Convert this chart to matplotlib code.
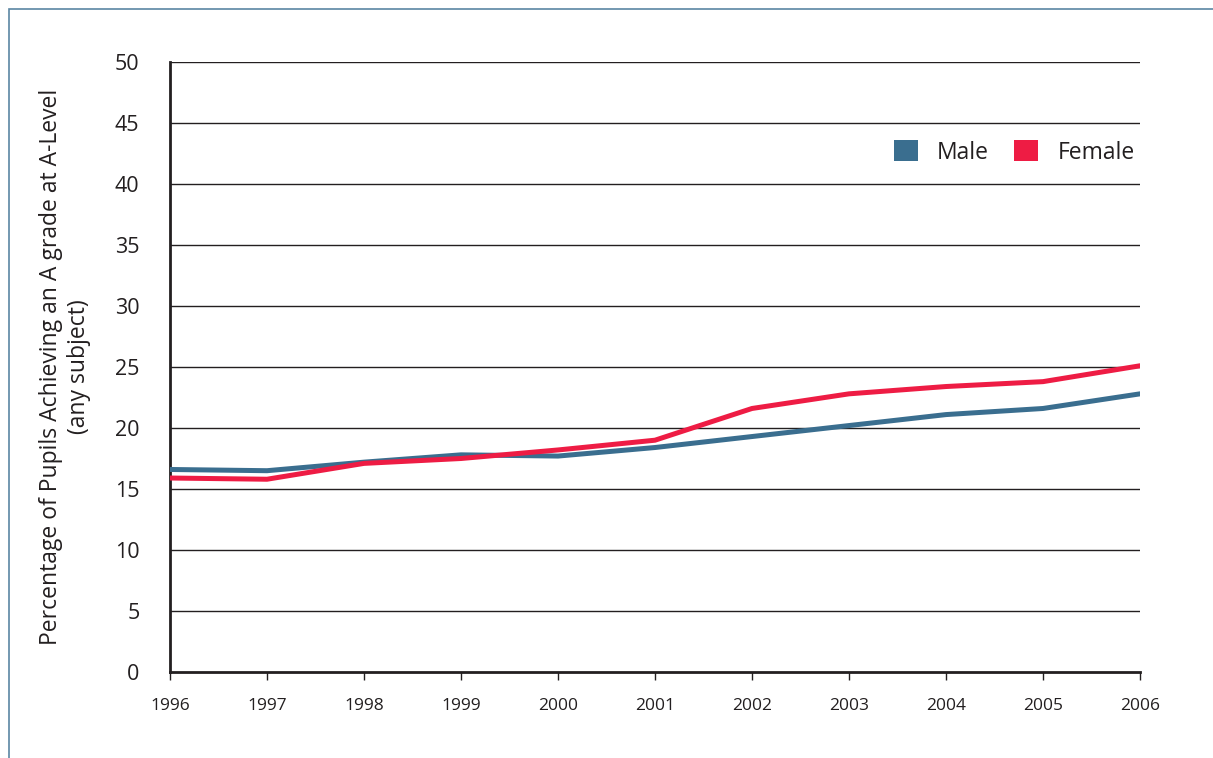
import matplotlib
matplotlib.use('Agg')
import matplotlib.pyplot as plt
from matplotlib.patches import Patch, Rectangle

years = [1996, 1997, 1998, 1999, 2000, 2001, 2002, 2003, 2004, 2005, 2006]
male = [16.6, 16.5, 17.2, 17.8, 17.7, 18.4, 19.3, 20.2, 21.1, 21.6, 22.8]
female = [15.9, 15.8, 17.1, 17.5, 18.2, 19.0, 21.6, 22.8, 23.4, 23.8, 25.1]
y_ticks = [0, 5, 10, 15, 20, 25, 30, 35, 40, 45, 50]

MALE_COL = '#3a6e8f'
FEMALE_COL = '#ee1c44'

plt.rcParams['font.family'] = ['Open Sans', 'DejaVu Sans']

fig = plt.figure(figsize=(12.13, 7.58), dpi=100)
# cadre autour de la figure (coupé à droite et en bas)
fig.patches.append(Rectangle((9 / 1213, -0.1), 1.2, 0.1 + (758 - 9) / 758,
                             transform=fig.transFigure, fill=False,
                             edgecolor='#5b86a3', lw=1.2))

ax = fig.add_axes([170 / 1213, 1 - 672 / 758, 970 / 1213, 610 / 758])

ax.plot(years, male, color=MALE_COL, lw=3.6, solid_capstyle='round', zorder=3)
ax.plot(years, female, color=FEMALE_COL, lw=3.6, solid_capstyle='round', zorder=3)

ax.set_xlim(1996, 2006)
ax.set_ylim(0, 50)
ax.set_yticks(y_ticks)
ax.set_xticks(years)
ax.set_xticklabels([str(y) for y in years], fontsize=12.5, color='#231f20')
ax.tick_params(axis='y', length=0, pad=22, labelsize=15.5, labelcolor='#231f20')
ax.tick_params(axis='x', direction='out', length=6, width=1, pad=13, color='#231f20')

for v in y_ticks[1:]:
    ax.axhline(v, color='#231f20', lw=1.0, zorder=1)

for s in ['top', 'right']:
    ax.spines[s].set_visible(False)
ax.spines['left'].set_linewidth(2)
ax.spines['bottom'].set_linewidth(2)
ax.spines['left'].set_color('#231f20')
ax.spines['bottom'].set_color('#231f20')

ax.set_ylabel("Percentage of Pupils Achieving an A grade at A-Level\n(any subject)",
              fontsize=16.5, color='#231f20', labelpad=17, linespacing=1.25)

handles = [Patch(facecolor=MALE_COL, label='Male'), Patch(facecolor=FEMALE_COL, label='Female')]
leg = ax.legend(handles=handles, ncol=2, frameon=False, loc='center right',
                bbox_to_anchor=(0.995, 0.852), fontsize=16.5, handlelength=1.05,
                handleheight=1.05, handletextpad=0.85, columnspacing=1.1,
                borderpad=0, borderaxespad=0)
for t in leg.get_texts():
    t.set_color('#231f20')

fig.savefig('out.png', dpi=100)
